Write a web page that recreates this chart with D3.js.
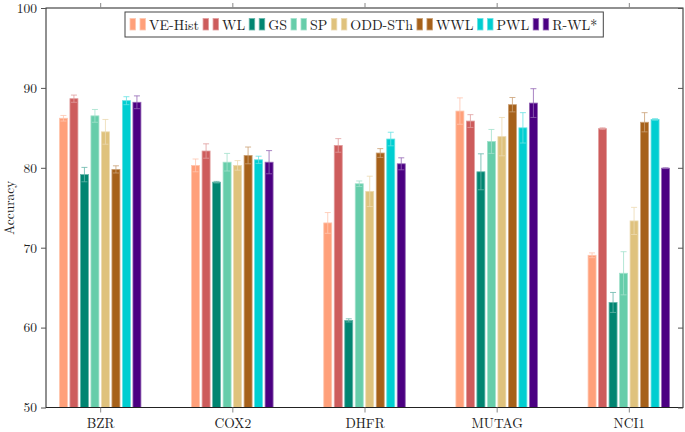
<!DOCTYPE html>
<html lang="en">
<head>
    <meta charset="UTF-8">
    <script src="https://d3js.org/d3.v7.min.js"></script>
    <style>
        body { margin: 0; background: white; }
        text { font-family: "Latin Modern Roman", "Liberation Serif", "DejaVu Serif", serif; fill: #222; }
    </style>
</head>
<body>
    <svg id="chart" width="685" height="432"></svg>
    <script>
        const datasets = ["BZR", "COX2", "DHFR", "MUTAG", "NCI1"];
        const methods = ["VE-Hist", "WL", "GS", "SP", "ODD-STh", "WWL", "PWL", "R-WL*"];
        const colors = ["#ffa07a", "#cd5c5c", "#018571", "#66cdaa", "#dfc27d", "#a6611a", "#00ced1", "#4b0082"];

        // accuracy per method, one value per dataset (BZR, COX2, DHFR, MUTAG, NCI1)
        const accVEHist = [86.2, 80.3, 73.1, 87.1, 69.05];
        const accWL     = [88.65, 82.1, 82.8, 85.85, 84.9];
        const accGS     = [79.15, 78.2, 60.9, 79.5, 63.15];
        const accSP     = [86.5, 80.7, 78.0, 83.3, 66.8];
        const accODD    = [84.5, 80.3, 77.05, 83.9, 73.35];
        const accWWL    = [79.8, 81.55, 81.85, 87.9, 85.7];
        const accPWL    = [88.4, 81.0, 83.6, 85.0, 86.05];
        const accRWL    = [88.2, 80.7, 80.5, 88.1, 79.95];

        // standard deviations
        const stdVEHist = [0.35, 0.8, 1.3, 1.65, 0.3];
        const stdWL     = [0.45, 0.9, 0.85, 0.8, 0.1];
        const stdGS     = [0.9, 0.1, 0.2, 2.25, 1.25];
        const stdSP     = [0.8, 1.1, 0.35, 1.5, 2.7];
        const stdODD    = [1.55, 0.6, 1.9, 2.4, 1.7];
        const stdWWL    = [0.45, 1.05, 0.55, 0.9, 1.2];
        const stdPWL    = [0.5, 0.45, 0.85, 1.9, 0.1];
        const stdRWL    = [0.8, 1.45, 0.75, 1.8, 0.05];

        const yTicks = [50, 60, 70, 80, 90, 100];

        const accs = [accVEHist, accWL, accGS, accSP, accODD, accWWL, accPWL, accRWL];
        const stds = [stdVEHist, stdWL, stdGS, stdSP, stdODD, stdWWL, stdPWL, stdRWL];

        const rows = [];
        methods.forEach((m, i) => {
            datasets.forEach((ds, j) => {
                rows.push({ method: m, mi: i, dataset: ds, value: accs[i][j], std: stds[i][j] });
            });
        });

        const svg = d3.select("#chart");
        const plotL = 46, plotR = 683, plotT = 8, plotB = 407.5;

        const x = d3.scalePoint().domain(datasets).range([plotL, plotR]).padding(0.41);
        const step = 10.5, barW = 8;
        const y = d3.scaleLinear().domain([50, 100]).range([plotB, plotT]);
        const color = d3.scaleOrdinal(methods, colors);
        const lighter = c => d3.interpolateRgb(c, "white")(0.4);

        const layer = svg.append("g");

        // bars
        layer.selectAll("rect.bar")
            .data(rows)
            .join("rect")
            .attr("class", "bar")
            .attr("x", d => x(d.dataset) + (d.mi - 3.5) * step - barW / 2)
            .attr("width", barW)
            .attr("y", d => y(d.value))
            .attr("height", d => plotB - y(d.value))
            .attr("fill", d => color(d.method))
            .attr("stroke", d => lighter(color(d.method)))
            .attr("stroke-width", 0.8);

        // error bars
        const err = layer.selectAll("g.err")
            .data(rows)
            .join("g")
            .attr("class", "err")
            .attr("stroke", d => lighter(color(d.method)))
            .attr("stroke-opacity", 0.8)
            .attr("stroke-width", 1);
        const cx = d => x(d.dataset) + (d.mi - 3.5) * step;
        err.append("line")
            .attr("x1", cx).attr("x2", cx)
            .attr("y1", d => y(d.value - d.std)).attr("y2", d => y(d.value + d.std));
        err.append("line")
            .attr("x1", d => cx(d) - 3).attr("x2", d => cx(d) + 3)
            .attr("y1", d => y(d.value + d.std)).attr("y2", d => y(d.value + d.std));
        err.append("line")
            .attr("x1", d => cx(d) - 3).attr("x2", d => cx(d) + 3)
            .attr("y1", d => y(d.value - d.std)).attr("y2", d => y(d.value - d.std));

        // frame
        svg.append("rect")
            .attr("x", plotL).attr("y", plotT)
            .attr("width", plotR - plotL).attr("height", plotB - plotT)
            .attr("fill", "none").attr("stroke", "#222").attr("stroke-width", 1);

        // left axis
        const yAxis = svg.append("g")
            .attr("transform", `translate(${plotL},0)`)
            .call(d3.axisLeft(y).tickValues(yTicks).tickSize(5).tickPadding(4));
        yAxis.select(".domain").remove();
        yAxis.selectAll("line").attr("stroke", "#555");
        yAxis.selectAll("text").style("font-size", "13.5px").attr("fill", "#222");

        // right axis ticks (inside)
        svg.append("g")
            .attr("transform", `translate(${plotR},0)`)
            .call(d3.axisLeft(y).tickValues(yTicks).tickSize(5).tickFormat(""))
            .call(g => g.select(".domain").remove())
            .selectAll("line").attr("stroke", "#555");

        // bottom axis
        const xAxis = svg.append("g")
            .attr("transform", `translate(0,${plotB})`)
            .call(d3.axisBottom(x).tickSize(5).tickPadding(6));
        xAxis.select(".domain").remove();
        xAxis.selectAll("line").attr("stroke", "#888");
        xAxis.selectAll("text").style("font-size", "13.5px").attr("fill", "#222");

        // top axis ticks
        svg.append("g")
            .attr("transform", `translate(0,${plotT})`)
            .call(d3.axisTop(x).tickSize(5).tickFormat(""))
            .call(g => g.select(".domain").remove())
            .selectAll("line").attr("stroke", "#888");

        // y label
        svg.append("text")
            .attr("transform", `translate(14,${(plotT + plotB) / 2}) rotate(-90)`)
            .attr("text-anchor", "middle")
            .style("font-size", "13.5px")
            .text("Accuracy");

        // legend
        const legend = svg.append("g");
        const box = legend.append("rect")
            .attr("fill", "white").attr("stroke", "#444").attr("stroke-width", 1);
        let lx = 130;
        const ly = 24.5;
        methods.forEach((m, i) => {
            const c = color(m);
            [0, 10].forEach(off => {
                legend.append("rect")
                    .attr("x", lx + off).attr("y", ly - 6)
                    .attr("width", 5.5).attr("height", 11.5)
                    .attr("fill", c).attr("stroke", lighter(c)).attr("stroke-width", 0.8);
            });
            const t = legend.append("text")
                .attr("x", lx + 19).attr("y", ly + 5)
                .style("font-size", "14px")
                .text(m);
            lx += 19 + t.node().getComputedTextLength() + 4;
        });
        box.attr("x", 125).attr("y", 12).attr("width", lx - 125 + 2).attr("height", 25);
    </script>
</body>
</html>
